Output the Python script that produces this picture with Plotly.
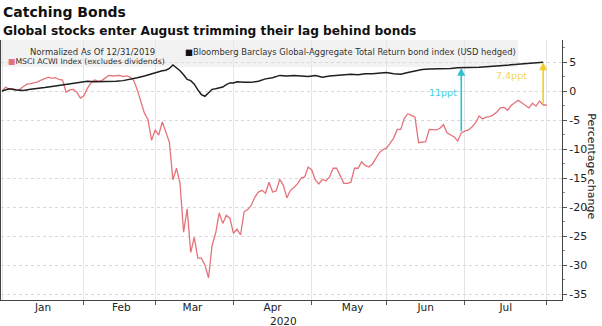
import pandas as pd
import plotly.graph_objects as go

# ---------------- data ----------------
msci_dates = pd.bdate_range("2020-01-01", "2020-08-03")
msci_values = [
    0.0, 0.7, 0.3, 0.4, 0.2, 0.3, 0.8, 1.2, 1.3, 1.4,
    1.6, 1.9, 2.2, 2.4, 2.2, 2.3, 2.0, 1.9, -0.2, 0.2,
    0.3, -0.2, -1.2, -0.8, 0.5, 1.4, 1.9, 1.7, 1.8, 2.2,
    2.7, 2.6, 2.7, 2.7, 2.5, 2.6, 2.4, 1.8, 0.2, -2.0,
    -3.8, -4.9, -8.5, -6.7, -7.6, -5.3, -7.1, -8.8, -15.3, -13.3,
    -15.9, -24.3, -20.3, -27.8, -25.2, -28.8, -28.8, -30.0, -32.2, -26.6,
    -24.5, -21.0, -22.8, -21.4, -21.9, -24.5, -23.8, -24.8, -20.8, -20.4,
    -19.7, -18.3, -17.4, -17.1, -17.6, -15.7, -17.4, -17.2, -15.2, -16.2,
    -18.4, -17.1, -16.6, -16.0, -15.0, -14.8, -13.1, -13.6, -15.3, -16.0,
    -15.2, -15.5, -14.8, -13.3, -13.3, -14.5, -15.9, -15.9, -15.7, -13.3,
    -13.3, -12.2, -12.8, -13.1, -12.6, -11.6, -10.6, -10.1, -9.8, -9.0,
    -8.1, -6.6, -6.6, -4.7, -3.9, -4.2, -4.5, -8.9, -8.8, -8.7,
    -6.6, -6.7, -6.7, -6.4, -5.8, -7.2, -7.6, -7.9, -8.6, -7.2,
    -6.9, -6.7, -6.2, -5.5, -4.3, -4.8, -4.5, -4.4, -4.1, -3.6,
    -2.9, -2.8, -3.3, -2.5, -2.0, -1.6, -2.0, -2.5, -2.9, -2.1,
    -2.6, -1.7, -2.4, -2.4,
]

bond_dates = [
    "2020-01-01", "2020-01-03", "2020-01-07", "2020-01-09", "2020-01-13",
    "2020-01-15", "2020-01-17", "2020-01-21", "2020-01-23", "2020-01-27",
    "2020-01-29", "2020-01-31", "2020-02-04", "2020-02-06", "2020-02-10",
    "2020-02-12", "2020-02-14", "2020-02-18", "2020-02-20", "2020-02-24",
    "2020-02-26", "2020-02-28", "2020-03-02", "2020-03-03", "2020-03-04",
    "2020-03-05", "2020-03-06", "2020-03-09", "2020-03-10", "2020-03-11",
    "2020-03-12", "2020-03-13", "2020-03-16", "2020-03-17", "2020-03-18",
    "2020-03-19", "2020-03-20", "2020-03-23", "2020-03-24", "2020-03-25",
    "2020-03-26", "2020-03-27", "2020-03-30", "2020-03-31", "2020-04-01",
    "2020-04-02", "2020-04-06", "2020-04-08", "2020-04-10", "2020-04-14",
    "2020-04-16", "2020-04-20", "2020-04-22", "2020-04-24", "2020-04-28",
    "2020-04-30", "2020-05-04", "2020-05-06", "2020-05-08", "2020-05-12",
    "2020-05-14", "2020-05-18", "2020-05-20", "2020-05-22", "2020-05-26",
    "2020-05-28", "2020-06-01", "2020-06-03", "2020-06-05", "2020-06-09",
    "2020-06-11", "2020-06-15", "2020-06-17", "2020-06-19", "2020-06-23",
    "2020-06-25", "2020-06-29", "2020-07-01", "2020-07-03", "2020-07-07",
    "2020-07-09", "2020-07-13", "2020-07-15", "2020-07-17", "2020-07-21",
    "2020-07-23", "2020-07-27", "2020-07-29", "2020-07-31",
]
bond_values = [
    0.0, 0.4, 0.2, 0.1, 0.3,
    0.4, 0.6, 0.8, 1.0, 1.2,
    1.4, 1.6, 1.7, 1.6, 1.6,
    1.7, 1.7, 1.8, 2.0, 2.3,
    2.6, 3.0, 3.1, 3.3, 3.5,
    3.6, 3.9, 4.5, 4.0, 3.5,
    2.8, 2.0, 1.8, 1.2, 0.2,
    -0.6, -0.9, -0.3, 0.3, 0.4,
    0.5, 0.7, 1.1, 1.4, 1.4,
    1.6, 1.5, 1.5, 1.7, 2.1,
    2.3, 2.7, 2.6, 2.7, 2.6,
    2.5, 2.7, 2.4, 2.6, 2.7,
    2.8, 2.9, 2.8, 3.0, 3.0,
    3.1, 3.2, 3.0, 2.9, 3.2,
    3.5, 3.7, 3.8, 3.8, 3.9,
    3.9, 4.0, 4.0, 4.1, 4.1,
    4.2, 4.3, 4.3, 4.4, 4.5,
    4.7, 4.7, 4.8, 4.95,
]

y_tick_vals = [5, 0, -5, -10, -15, -20, -25, -30, -35]
y_tick_text = ["5", "0", "-5", "-10", "-15", "-20", "-25", "-30", "-35"]

gap1 = dict(date="2020-06-30", top=4.0, bottom=-7.2, label="11ppt",
            label_date="2020-06-23", label_y=-0.3)
gap2 = dict(date="2020-07-31", top=4.95, bottom=-2.4, label="7.4ppt",
            label_date="2020-07-20", label_y=2.75)

RED = "#e5737b"
FONT = "DejaVu Sans"

fig = go.Figure()
fig.add_trace(go.Scatter(x=msci_dates, y=msci_values, mode="lines",
                         line=dict(color=RED, width=1.3), hoverinfo="skip"))
fig.add_trace(go.Scatter(x=bond_dates, y=bond_values, mode="lines",
                         line=dict(color="#1e1e1e", width=1.5), hoverinfo="skip"))

# legend background band
fig.add_shape(type="rect", xref="paper", yref="paper", x0=0, x1=0.9216,
              y0=0.896, y1=1.0, fillcolor="rgba(236,236,236,0.7)",
              line=dict(width=0), layer="below")

annotations = [
    dict(text="<b>Catching Bonds</b>", xref="paper", yref="paper", x=0.0,
         y=1.106, xanchor="left", yanchor="middle", showarrow=False,
         font=dict(family=FONT, size=14, color="#111")),
    dict(text="<b>Global stocks enter August trimming their lag behind bonds</b>",
         xref="paper", yref="paper", x=0.0, y=1.036, xanchor="left",
         yanchor="middle", showarrow=False,
         font=dict(family=FONT, size=12.2, color="#111")),
    dict(text="Normalized As Of 12/31/2019", xref="paper", yref="paper",
         x=0.048, y=0.954, xanchor="left", yanchor="middle", showarrow=False,
         font=dict(family=FONT, size=8.5, color="#333")),
    dict(text="<span style='color:#111'>■</span>Bloomberg Barclays Global-Aggregate Total Return bond index (USD hedged)",
         xref="paper", yref="paper", x=0.324, y=0.954, xanchor="left",
         yanchor="middle", showarrow=False,
         font=dict(family=FONT, size=8.4, color="#333")),
    dict(text=f"<span style='color:{RED}'>■</span>MSCI ACWI Index (excludes dividends)",
         xref="paper", yref="paper", x=0.009, y=0.917, xanchor="left",
         yanchor="middle", showarrow=False,
         font=dict(family=FONT, size=7.8, color="#333")),
    dict(text="2020", xref="paper", yref="paper", x=0.503, y=-0.08,
         xanchor="center", yanchor="middle", showarrow=False,
         font=dict(family=FONT, size=10.5, color="#222")),
    dict(text="Percentage change", xref="paper", yref="paper", x=1.053,
         y=0.515, xanchor="center", yanchor="middle", showarrow=False,
         textangle=90, font=dict(family=FONT, size=11, color="#222")),
]
for g, col, tcol in [(gap1, "#2fbfcf", "#45cde0"), (gap2, "#f0cf2a", "#f2d65a")]:
    annotations.append(dict(x=g["date"], y=g["top"], xref="x", yref="y",
                            ax=0, ay=g["bottom"], ayref="y", showarrow=True,
                            arrowhead=2, arrowsize=1, arrowwidth=1.6,
                            arrowcolor=col, text=""))
    annotations.append(dict(x=g["label_date"], y=g["label_y"], xref="x",
                            yref="y", text=g["label"], showarrow=False,
                            xanchor="center", yanchor="middle",
                            font=dict(family=FONT, size=9.5, color=tcol)))

fig.update_layout(
    width=602, height=326,
    margin=dict(l=1, r=40, t=40, b=26),
    paper_bgcolor="white", plot_bgcolor="white",
    showlegend=False,
    annotations=annotations,
    font=dict(family=FONT, color="#222"),
)
fig.update_xaxes(
    type="date",
    range=["2019-12-31 17:00", "2020-08-07 07:00"],
    rangebreaks=[dict(bounds=["sat", "mon"])],
    dtick="M1", tick0="2020-01-01", tickformat="%b",
    ticklabelmode="period",
    ticks="outside", ticklen=4, tickcolor="#555",
    ticklabelstandoff=-7,
    showgrid=True, gridcolor="#e6e6e6", gridwidth=1,
    showline=True, linecolor="#444", linewidth=1,
    tickfont=dict(family=FONT, size=10.5, color="#222"),
    zeroline=False,
)
fig.update_yaxes(
    side="right", range=[-36.0, 8.8],
    tickmode="array", tickvals=y_tick_vals, ticktext=y_tick_text,
    ticks="outside", ticklen=4, tickcolor="#555",
    minor=dict(tickmode="array", tickvals=[7.5, 2.5, -2.5, -7.5, -12.5, -17.5,
                                             -22.5, -27.5, -32.5],
               ticks="outside", ticklen=2, tickcolor="#888", showgrid=False),
    showgrid=True, gridcolor="#d8d8d8", griddash="dot", gridwidth=1,
    showline=True, linecolor="#444", linewidth=1, mirror=True,
    tickfont=dict(family=FONT, size=11, color="#222"),
    zeroline=False,
)

fig.write_html("out.html")
